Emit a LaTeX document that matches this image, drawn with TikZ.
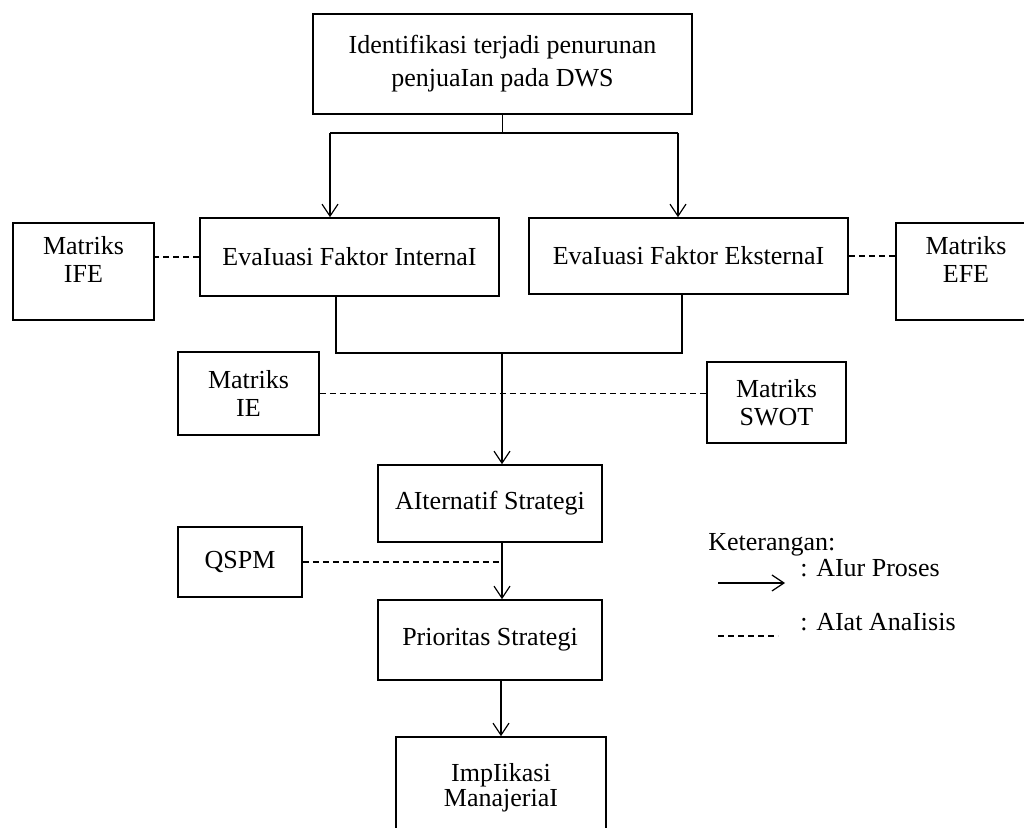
\documentclass[tikz,border=0pt]{standalone}
\usepackage{fontspec}
\setmainfont{Liberation Serif}
\usetikzlibrary{arrows.meta}

\tikzset{
  box/.style={draw, line width=.8pt, align=center, inner sep=0pt, font=\fontsize{13}{14}\selectfont},
  flow/.style={line width=.6pt, -{Straight Barb[length=6pt,width=8pt]}},
  link/.style={line width=.6pt},
  analysis/.style={line width=.7pt, dash pattern=on 3pt off 2pt},
  legtxt/.style={anchor=west, inner sep=0pt, font=\fontsize{13}{14}\selectfont}
}

\begin{document}
\begin{tikzpicture}[x=.5pt, y=-.5pt]
    \useasboundingbox (0,0) rectangle (1024,828);
    % main flow
    \node[box, minimum width=189.5pt, minimum height=50pt, font=\fontsize{13}{16.5}\selectfont] (ident) at (502.5,64)
      {Identifikasi terjadi penurunan\\penjuaIan pada DWS};
    \node[box, minimum width=149.5pt, minimum height=39pt] (int) at (349.5,257)
      {EvaIuasi Faktor InternaI};
    \node[box, minimum width=159.5pt, minimum height=38pt] (eks) at (688.5,256)
      {EvaIuasi Faktor EksternaI};
    \node[box, minimum width=112pt, minimum height=38.5pt] (alt) at (490,503.5)
      {AIternatif Strategi};
    \node[box, minimum width=112pt, minimum height=40pt] (prio) at (490,640)
      {Prioritas Strategi};
    \node[box, minimum width=105pt, minimum height=50.5pt, font=\fontsize{13}{12.5}\selectfont] (impl) at (501,787.5)
      {ImpIikasi\\ManajeriaI};
    % tools
    \node[box, minimum width=70.5pt, minimum height=48.5pt,
      label={[box, draw=none, yshift=6.25pt]center:Matriks\\IFE}] (ife) at (83.5,271.5) {};
    \node[box, minimum width=70pt, minimum height=48.5pt,
      label={[box, draw=none, yshift=6.25pt]center:Matriks\\EFE}] (efe) at (966,271.5) {};
    \node[box, minimum width=70.5pt, minimum height=41.5pt] (ie) at (248.5,393.5) {Matriks\\IE};
    \node[box, minimum width=69.5pt, minimum height=40.5pt] (swot) at (776.5,402.5) {Matriks\\SWOT};
    \node[box, minimum width=62pt, minimum height=35pt] (qspm) at (240,562) {QSPM};

    \coordinate (split) at (502.5,133);
    \coordinate (splitL) at (330,133);
    \coordinate (splitR) at (678,133);
    \coordinate (joinL) at (336,353);
    \coordinate (join) at (502,353);
    \coordinate (joinR) at (682,353);

    \draw[link] (ident.south) -- (split);
    \draw[link] (splitL) -- (splitR);
    \draw[flow] (splitL) -- (splitL |- int.north);
    \draw[flow] (splitR) -- (splitR |- eks.north);
    \draw[link] (joinL |- int.south) -- (joinL) -- (joinR) -- (joinR |- eks.south);
    \draw[flow] (join) -- (join |- alt.north);
    \draw[flow] (join |- alt.south) -- (join |- prio.north);
    \draw[flow] (impl.north |- prio.south) -- (impl.north);

    \draw[analysis] (int.west) -- (int.west -| ife.east);
    \draw[analysis] (eks.east) -- (eks.east -| efe.west);
    \draw[analysis] (ie.east) -- (ie.east -| swot.west);
    \draw[analysis] (qspm.east) -- (qspm.east -| join);

    % legend
    \node[legtxt] (ket) at (708,545) {Keterangan:};
    \node[legtxt] (alur) at (800,568) {: AIur Proses};
    \node[legtxt] (alat) at (800,622) {: AIat AnaIisis};
    \coordinate (flowA) at (718,583);
    \coordinate (flowB) at (785,583);
    \coordinate (dashA) at (718,636);
    \coordinate (dashB) at (778,636);
    \draw[flow] (flowA) -- (flowB);
    \draw[analysis] (dashA) -- (dashB);
  \end{tikzpicture}
\end{document}
